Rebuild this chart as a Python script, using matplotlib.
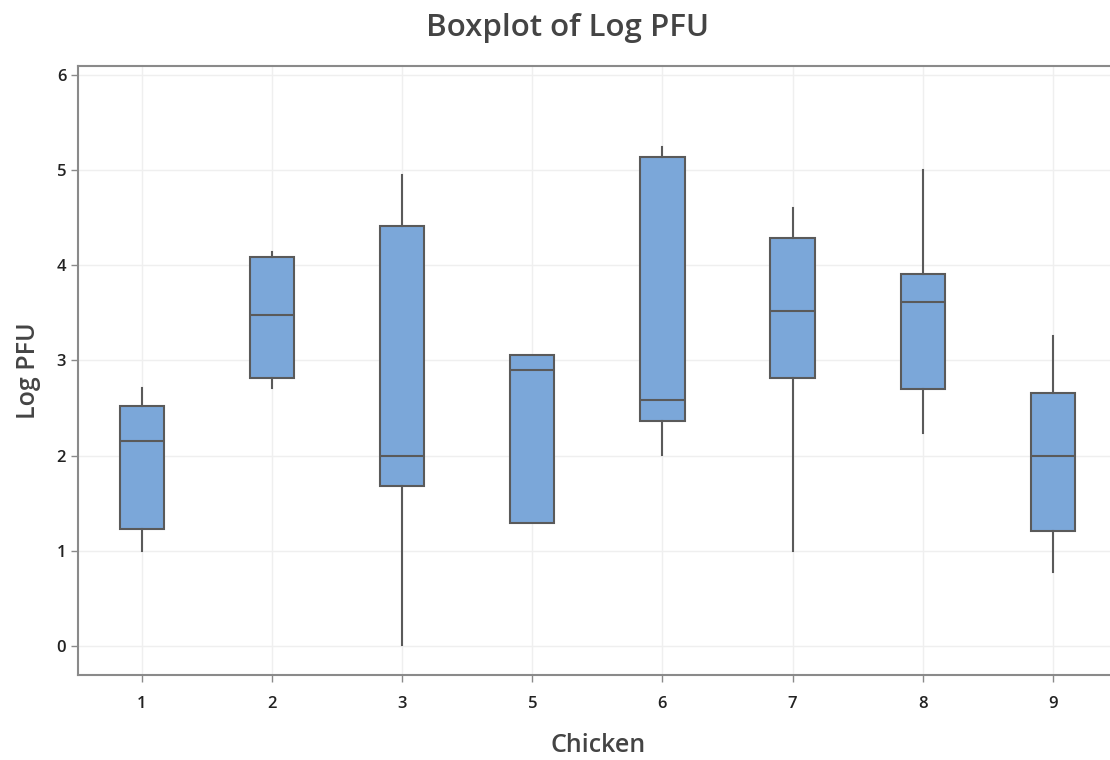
import matplotlib
matplotlib.use("Agg")
import matplotlib.pyplot as plt

categories = ["1", "2", "3", "5", "6", "7", "8", "9"]
whisker_low = [1.00, 2.71, 0.01, 1.30, 2.01, 1.00, 2.24, 0.78]
q1 = [1.23, 2.82, 1.68, 1.30, 2.37, 2.82, 2.70, 1.21]
median = [2.16, 3.48, 2.00, 2.90, 2.59, 3.52, 3.61, 2.00]
q3 = [2.52, 4.09, 4.41, 3.06, 5.14, 4.29, 3.91, 2.66]
whisker_high = [2.71, 4.14, 4.95, 3.06, 5.24, 4.60, 5.00, 3.26]

plt.rcParams['font.family'] = ['Open Sans', 'DejaVu Sans']

fig = plt.figure(figsize=(11.1, 7.6), dpi=100)
ax = fig.add_axes([78/1110, 1 - 675/760, 1040/1110, (675-66)/760])

stats = []
for i, c in enumerate(categories):
    stats.append(dict(label=c, whislo=whisker_low[i], q1=q1[i], med=median[i],
                      q3=q3[i], whishi=whisker_high[i], fliers=[]))

edge = '#5a5a5a'
ax.bxp(stats, positions=range(1, len(categories) + 1), widths=0.34,
       patch_artist=True, showcaps=False,
       boxprops=dict(facecolor='#7ba7d9', edgecolor=edge, linewidth=1.5),
       medianprops=dict(color=edge, linewidth=1.5),
       whiskerprops=dict(color=edge, linewidth=1.5),
       zorder=3)

ax.set_xlim(0.51, 8.5)
ax.set_ylim(-0.30, 6.09)
ax.set_yticks(range(0, 7))
ax.grid(True, color='#efefef', linewidth=1.0, zorder=0)
ax.set_axisbelow(True)

for s in ['top', 'left', 'bottom']:
    ax.spines[s].set_color('#8a8a8a')
    ax.spines[s].set_linewidth(1.5)
ax.spines['right'].set_visible(False)

ax.tick_params(axis='both', colors='#8a8a8a', length=5, width=1, labelcolor='#222222',
               labelsize=12)
ax.tick_params(axis='x', pad=10)
for lab in ax.get_xticklabels() + ax.get_yticklabels():
    lab.set_fontweight('semibold')

ax.set_xlabel('Chicken', fontsize=18, color='#444444', labelpad=15, fontweight='semibold')
ax.set_ylabel('Log PFU', fontsize=18, color='#444444', labelpad=11, fontweight='semibold')
fig.text(568/1110, 1 - 28/760, 'Boxplot of Log PFU', fontsize=22.5, color='#444444',
         fontweight='semibold', ha='center', va='center')

fig.savefig('out.png', dpi=100)
